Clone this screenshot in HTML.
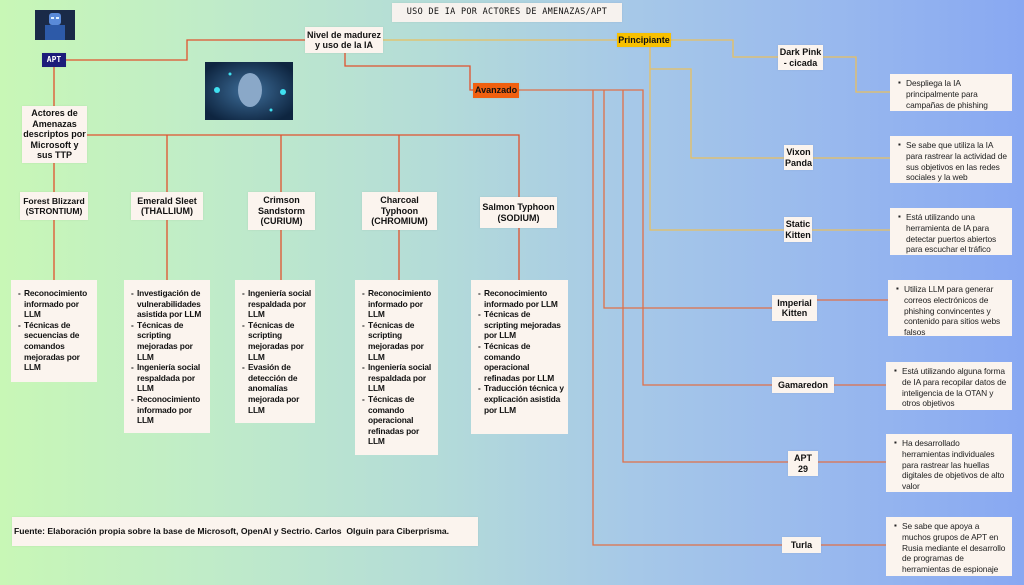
<!DOCTYPE html>
<html><head><meta charset="utf-8">
<style>
*{margin:0;padding:0;box-sizing:border-box}
body{width:1024px;height:585px;overflow:hidden;position:relative;font-family:"Liberation Sans",Arial,sans-serif;
background:linear-gradient(90deg,#c8f7b6 0%,#c0ecc8 20%,#b4dcd8 42%,#a6c8e8 62%,#98b8ee 82%,#88a8f2 100%);}
.b{position:absolute;background:#fbf4ee;color:#111;font-weight:bold;font-size:9px;line-height:10.5px;text-align:center;display:flex;align-items:center;justify-content:center;box-shadow:0 0 2px rgba(0,0,0,.08)}
.l{position:absolute;background:#fbf4ee;color:#111;font-weight:bold;font-size:8.4px;letter-spacing:-0.15px;line-height:10.6px;padding:8px 2px 4px 13px}
.l div{position:relative}
.l div:before{content:"-";position:absolute;left:-6px}
.d{position:absolute;background:#fbf4ee;color:#222;font-size:8.4px;letter-spacing:-0.1px;line-height:10.8px;padding:4px 3px 3px 16px}
.d:before{content:"\25AA";position:absolute;left:8px;top:4px;font-size:8px}
svg{position:absolute;left:0;top:0}
</style></head><body>
<svg width="1024" height="585">
<g fill="none" stroke="#e0522e" stroke-width="1.3">
<polyline points="66,60 187,60 187,40 305,40"/>
<polyline points="54,67 54,106"/>
<polyline points="54,163 54,192"/>
<polyline points="345,53 345,66 470,66 470,90 473,90"/>
<polyline points="87,135 519,135 519,197"/>
<line x1="167" y1="135" x2="167" y2="192"/>
<line x1="281" y1="135" x2="281" y2="192"/>
<line x1="399" y1="135" x2="399" y2="192"/>
<line x1="54" y1="220" x2="54" y2="280"/>
<line x1="167" y1="220" x2="167" y2="280"/>
<line x1="281" y1="230" x2="281" y2="280"/>
<line x1="399" y1="230" x2="399" y2="280"/>
<line x1="519" y1="228" x2="519" y2="280"/>
</g>
<g fill="none" stroke="#e07048" stroke-width="1.3">
<polyline points="519,90 643,90 643,385 772,385"/>
<polyline points="593,90 593,545 782,545"/>
<polyline points="604,90 604,308 772,308"/>
<polyline points="623,90 623,462 788,462"/>
<line x1="817" y1="300" x2="888" y2="300"/>
<line x1="834" y1="385" x2="886" y2="385"/>
<line x1="818" y1="462" x2="886" y2="462"/>
<line x1="821" y1="545" x2="886" y2="545"/>
</g>
<g fill="none" stroke="#e8c060" stroke-width="1.3">
<line x1="383" y1="40" x2="617" y2="40"/>
<polyline points="671,40 733,40 733,57 778,57"/>
<polyline points="823,57 856,57 856,92 890,92"/>
<polyline points="650,47 650,230 784,230"/>
<polyline points="650,69 691,69 691,158 784,158"/>
<line x1="813" y1="158" x2="890" y2="158"/>
<line x1="812" y1="230" x2="890" y2="230"/>
</g>
</svg>

<svg style="left:35px;top:10px" width="40" height="30"><rect width="40" height="30" fill="#1a2a48"/><rect x="14" y="3" width="12" height="12" rx="3" fill="#5a8ad8"/><rect x="10" y="15" width="20" height="15" fill="#2d5aa8"/><rect x="16" y="7" width="3" height="2" fill="#e0f0ff"/><rect x="21" y="7" width="3" height="2" fill="#e0f0ff"/></svg>
<svg style="left:205px;top:62px" width="88" height="58"><defs><radialGradient id="g" cx="50%" cy="50%" r="60%"><stop offset="0" stop-color="#3e6e9a"/><stop offset="1" stop-color="#0e2540"/></radialGradient></defs><rect width="88" height="58" fill="url(#g)"/><ellipse cx="45" cy="28" rx="12" ry="17" fill="#8aa8c8"/><circle cx="12" cy="28" r="3" fill="#40e0f0"/><circle cx="78" cy="30" r="3" fill="#40e0f0"/><circle cx="25" cy="12" r="1.5" fill="#40e0f0"/><circle cx="66" cy="48" r="1.5" fill="#40e0f0"/></svg>

<div class="b" style="left:392px;top:3px;width:230px;height:19px;font-weight:normal;font-family:'DejaVu Sans Mono',monospace;font-size:8.5px;letter-spacing:.3px;text-transform:uppercase;background:#f6f2ee">USO DE IA por actores de amenazas/APT</div>
<div class="b" style="left:42px;top:53px;width:24px;height:14px;background:#1c1c7a;color:#fff;font-size:8px;font-family:'DejaVu Sans Mono',monospace">APT</div>
<div class="b" style="left:305px;top:27px;width:78px;height:26px">Nivel de madurez<br>y uso de la IA</div>
<div class="b" style="left:617px;top:33px;width:54px;height:14px;background:#f8c000">Principiante</div>
<div class="b" style="left:473px;top:83px;width:46px;height:15px;background:#f06010">Avanzado</div>

<div class="b" style="left:22px;top:106px;width:65px;height:57px">Actores de<br>Amenazas<br>descriptos por<br>Microsoft y<br>sus TTP</div>
<div class="b" style="left:20px;top:192px;width:68px;height:28px;font-size:8.6px">Forest Blizzard<br>(STRONTIUM)</div>
<div class="b" style="left:131px;top:192px;width:72px;height:28px">Emerald Sleet<br>(THALLIUM)</div>
<div class="b" style="left:248px;top:192px;width:67px;height:38px">Crimson<br>Sandstorm<br>(CURIUM)</div>
<div class="b" style="left:362px;top:192px;width:75px;height:38px">Charcoal<br>Typhoon<br>(CHROMIUM)</div>
<div class="b" style="left:480px;top:197px;width:77px;height:31px">Salmon Typhoon<br>(SODIUM)</div>

<div class="l" style="left:11px;top:280px;width:86px;height:102px"><div>Reconocimiento informado por LLM</div><div>Técnicas de secuencias de comandos mejoradas por LLM</div></div>
<div class="l" style="left:124px;top:280px;width:86px;height:153px"><div>Investigación de vulnerabilidades asistida por LLM</div><div>Técnicas de scripting mejoradas por LLM</div><div>Ingeniería social respaldada por LLM</div><div>Reconocimiento informado por LLM</div></div>
<div class="l" style="left:235px;top:280px;width:80px;height:143px"><div>Ingeniería social respaldada por LLM</div><div>Técnicas de scripting mejoradas por LLM</div><div>Evasión de detección de anomalías mejorada por LLM</div></div>
<div class="l" style="left:355px;top:280px;width:83px;height:175px"><div>Reconocimiento informado por LLM</div><div>Técnicas de scripting mejoradas por LLM</div><div>Ingeniería social respaldada por LLM</div><div>Técnicas de comando operacional refinadas por LLM</div></div>
<div class="l" style="left:471px;top:280px;width:97px;height:154px"><div>Reconocimiento informado por LLM</div><div>Técnicas de scripting mejoradas por LLM</div><div>Técnicas de comando operacional refinadas por LLM</div><div>Traducción técnica y explicación asistida por LLM</div></div>

<div class="b" style="left:778px;top:45px;width:45px;height:25px">Dark Pink<br>- cicada</div>
<div class="b" style="left:784px;top:145px;width:29px;height:25px">Vixon<br>Panda</div>
<div class="b" style="left:784px;top:217px;width:28px;height:25px">Static<br>Kitten</div>
<div class="b" style="left:772px;top:295px;width:45px;height:26px">Imperial<br>Kitten</div>
<div class="b" style="left:772px;top:377px;width:62px;height:16px">Gamaredon</div>
<div class="b" style="left:788px;top:451px;width:30px;height:25px">APT<br>29</div>
<div class="b" style="left:782px;top:537px;width:39px;height:16px">Turla</div>

<div class="d" style="left:890px;top:74px;width:122px;height:37px">Despliega la IA principalmente para campañas de phishing</div>
<div class="d" style="left:890px;top:136px;width:122px;height:47px">Se sabe que utiliza la IA para rastrear la actividad de sus objetivos en las redes sociales y la web</div>
<div class="d" style="left:890px;top:208px;width:122px;height:47px">Está utilizando una herramienta de IA para detectar puertos abiertos para escuchar el tráfico</div>
<div class="d" style="left:888px;top:280px;width:124px;height:56px">Utiliza LLM para generar correos electrónicos de phishing convincentes y contenido para sitios webs falsos</div>
<div class="d" style="left:886px;top:362px;width:126px;height:48px">Está utilizando alguna forma de IA para recopilar datos de inteligencia de la OTAN y otros objetivos</div>
<div class="d" style="left:886px;top:434px;width:126px;height:58px">Ha desarrollado herramientas individuales para rastrear las huellas digitales de objetivos de alto valor</div>
<div class="d" style="left:886px;top:517px;width:126px;height:59px">Se sabe que apoya a muchos grupos de APT en Rusia mediante el desarrollo de programas de herramientas de espionaje</div>

<div class="b" style="left:12px;top:517px;width:466px;height:29px;justify-content:flex-start;padding-left:2px;font-size:8.6px">Fuente: Elaboración propia sobre la base de Microsoft, OpenAI y Sectrio. Carlos &nbsp;Olguin para Ciberprisma.</div>
</body></html>
